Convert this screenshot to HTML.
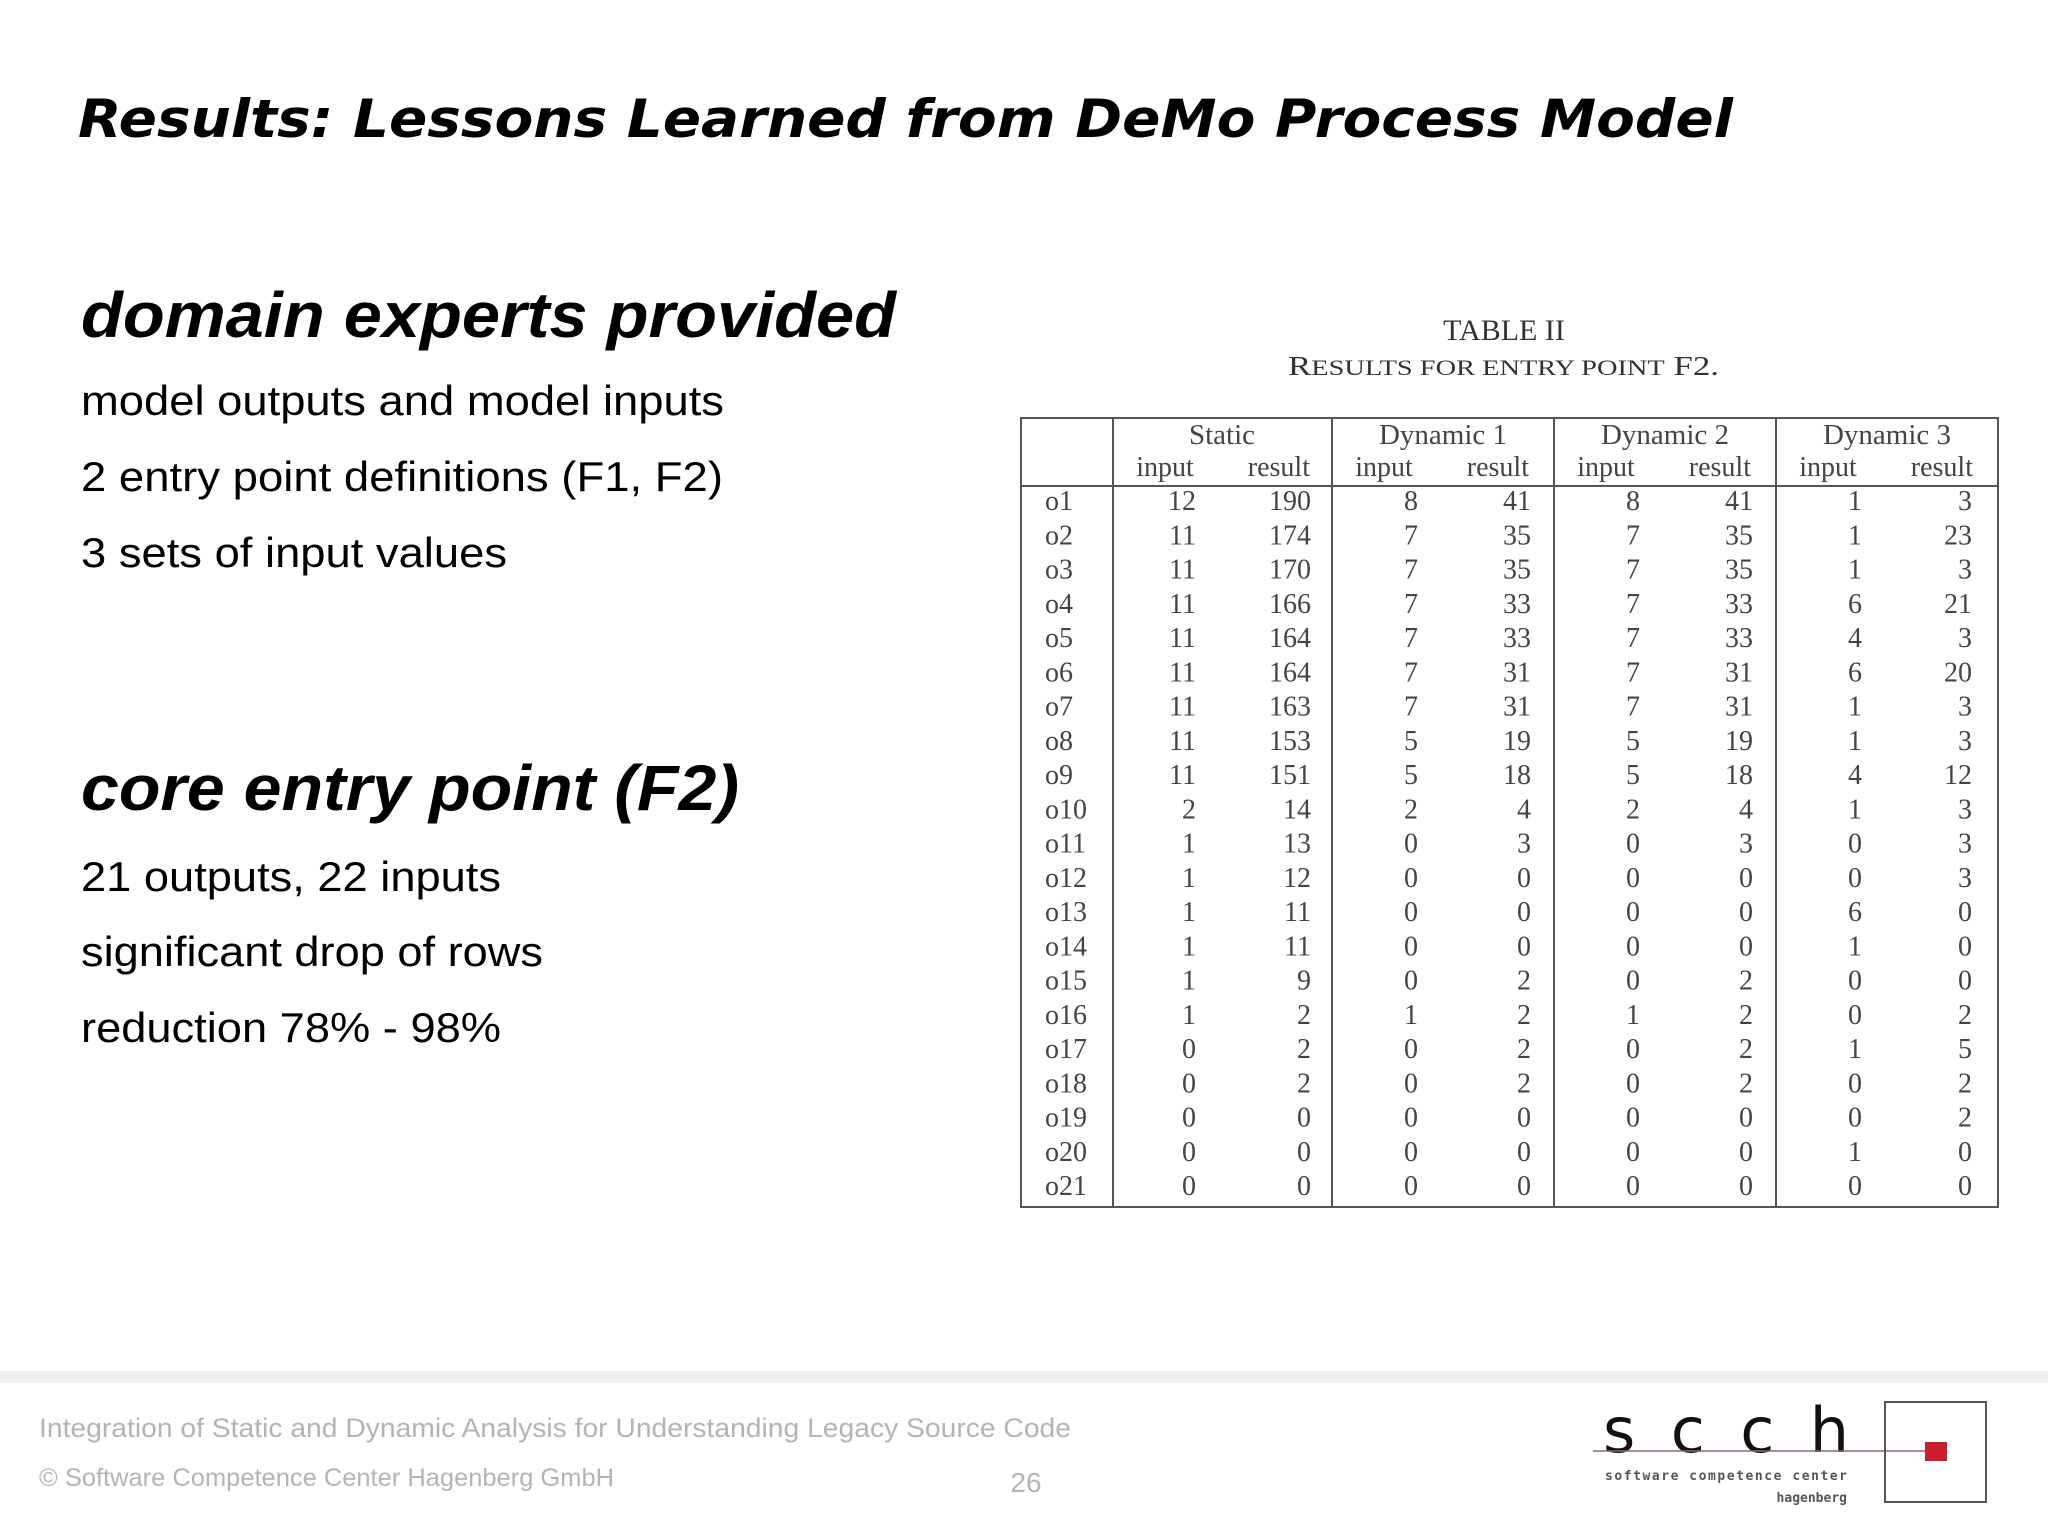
<!DOCTYPE html>
<html><head><meta charset="utf-8"><style>
html,body{margin:0;padding:0;background:#fff;width:2048px;height:1536px;overflow:hidden}
svg{display:block}
</style></head><body>
<svg id="s" width="2048" height="1536" viewBox="0 0 2048 1536" xmlns="http://www.w3.org/2000/svg">
<rect width="2048" height="1536" fill="#fff"/>
<text x="78" y="137" font-family="DejaVu Sans, sans-serif" font-weight="bold" font-style="italic" font-size="53" textLength="1655" lengthAdjust="spacingAndGlyphs" fill="#000">Results: Lessons Learned from DeMo Process Model</text>
<g font-family="Liberation Sans, sans-serif" fill="#000">
<text x="81" y="337" font-size="64" font-weight="bold" font-style="italic" textLength="815" lengthAdjust="spacingAndGlyphs">domain experts provided</text>
<text x="81" y="415" font-size="42" textLength="643" lengthAdjust="spacingAndGlyphs">model outputs and model inputs</text>
<text x="81" y="491" font-size="42" textLength="642" lengthAdjust="spacingAndGlyphs">2 entry point definitions (F1, F2)</text>
<text x="81" y="567" font-size="42" textLength="426" lengthAdjust="spacingAndGlyphs">3 sets of input values</text>
<text x="81" y="810" font-size="64" font-weight="bold" font-style="italic" textLength="658" lengthAdjust="spacingAndGlyphs">core entry point (F2)</text>
<text x="81" y="891" font-size="42" textLength="420" lengthAdjust="spacingAndGlyphs">21 outputs, 22 inputs</text>
<text x="81" y="966" font-size="42" textLength="462" lengthAdjust="spacingAndGlyphs">significant drop of rows</text>
<text x="81" y="1042" font-size="42" textLength="420" lengthAdjust="spacingAndGlyphs">reduction 78% - 98%</text>
</g>
<g font-family="Liberation Serif, serif" fill="#333">
<text x="1504" y="340" font-size="30" text-anchor="middle">TABLE II</text>
<text x="1288" y="375" font-size="27" textLength="431" lengthAdjust="spacingAndGlyphs">R<tspan font-size="22">ESULTS FOR ENTRY POINT</tspan> F2.</text>
</g>
<g id="tbl" font-family="Liberation Serif, serif" fill="#444"></g>
<rect x="0" y="1371" width="2048" height="12" fill="#efeff1"/>
<g font-family="Liberation Sans, sans-serif" fill="#b4b4b4">
<text x="39" y="1437" font-size="27" textLength="1032" lengthAdjust="spacingAndGlyphs">Integration of Static and Dynamic Analysis for Understanding Legacy Source Code</text>
<text x="39" y="1486" font-size="25" textLength="575" lengthAdjust="spacingAndGlyphs">© Software Competence Center Hagenberg GmbH</text>
<text x="1026" y="1492" font-size="28" text-anchor="middle">26</text>
</g>
<g>
<text x="1603" y="1452" font-family="DejaVu Sans, sans-serif" font-size="62" fill="#111" textLength="246" lengthAdjust="spacing">scch</text>
<line x1="1593" y1="1451" x2="1937" y2="1451" stroke="#8a6a6a" stroke-width="1.5"/>
<rect x="1885" y="1402" width="101" height="100" fill="none" stroke="#555" stroke-width="2"/>
<rect x="1925" y="1442" width="22" height="19" fill="#cc1f2e"/>
<text x="1605" y="1480" font-family="DejaVu Sans Mono, monospace" font-size="13" font-weight="bold" fill="#555" textLength="242" lengthAdjust="spacing">software competence center</text>
<text x="1847" y="1502" font-family="DejaVu Sans Mono, monospace" font-size="13" font-weight="bold" fill="#555" text-anchor="end">hagenberg</text>
</g>
</svg>
<script>
const rowLabels=["o1","o2","o3","o4","o5","o6","o7","o8","o9","o10","o11","o12","o13","o14","o15","o16","o17","o18","o19","o20","o21"];
const staticInput=[12,11,11,11,11,11,11,11,11,2,1,1,1,1,1,1,0,0,0,0,0];
const staticResult=[190,174,170,166,164,164,163,153,151,14,13,12,11,11,9,2,2,2,0,0,0];
const dyn1Input=[8,7,7,7,7,7,7,5,5,2,0,0,0,0,0,1,0,0,0,0,0];
const dyn1Result=[41,35,35,33,33,31,31,19,18,4,3,0,0,0,2,2,2,2,0,0,0];
const dyn2Input=[8,7,7,7,7,7,7,5,5,2,0,0,0,0,0,1,0,0,0,0,0];
const dyn2Result=[41,35,35,33,33,31,31,19,18,4,3,0,0,0,2,2,2,2,0,0,0];
const dyn3Input=[1,1,1,6,4,6,1,1,4,1,0,0,6,1,0,0,1,0,0,1,0];
const dyn3Result=[3,23,3,21,3,20,3,3,12,3,3,3,0,0,0,2,5,2,2,0,0];
const groupNames=["Static","Dynamic 1","Dynamic 2","Dynamic 3"];
const NS="http://www.w3.org/2000/svg";
const g=document.getElementById('tbl');
function mk(tag,attrs,txt){const e=document.createElementNS(NS,tag);for(const k in attrs)e.setAttribute(k,attrs[k]);if(txt!==undefined)e.textContent=txt;g.appendChild(e);return e;}
const L=1021,R=1998,T=418,B=1207,H=486;
const seps=[1113,1332,1554,1776];
let e=mk('rect',{x:L,y:T,width:R-L,height:B-T,fill:'none',stroke:'#555','stroke-width':2});


e=mk('line',{x1:L,y1:H,x2:R,y2:H,stroke:'#555','stroke-width':2});


seps.forEach(x=>{const l=mk('line',{x1:x,y1:T,x2:x,y2:B,stroke:'#555','stroke-width':2});

});
const grpX=[1222,1443,1665,1887];
groupNames.forEach((n,i)=>{const t=mk('text',{x:grpX[i],y:444,'font-size':29,'text-anchor':'middle'},n);


const a=mk('text',{x:seps[i]+52,y:476,'font-size':28,'text-anchor':'middle'},'input');


const b=mk('text',{x:seps[i]+197,y:476,'font-size':28,'text-anchor':'end'},'result');

});
const cols=[staticInput,staticResult,dyn1Input,dyn1Result,dyn2Input,dyn2Result,dyn3Input,dyn3Result];
const colRight=[1196,1311,1418,1531,1640,1753,1862,1972];
const y0=510,pitch=34.25;
rowLabels.forEach((lab,r)=>{const y=y0+r*pitch;
const t=mk('text',{x:1045,y:y,'font-size':28},lab);


cols.forEach((c,ci)=>{const v=mk('text',{x:colRight[ci],y:y,'font-size':28,'text-anchor':'end'},String(c[r]));

});});
</script>
</body></html>
